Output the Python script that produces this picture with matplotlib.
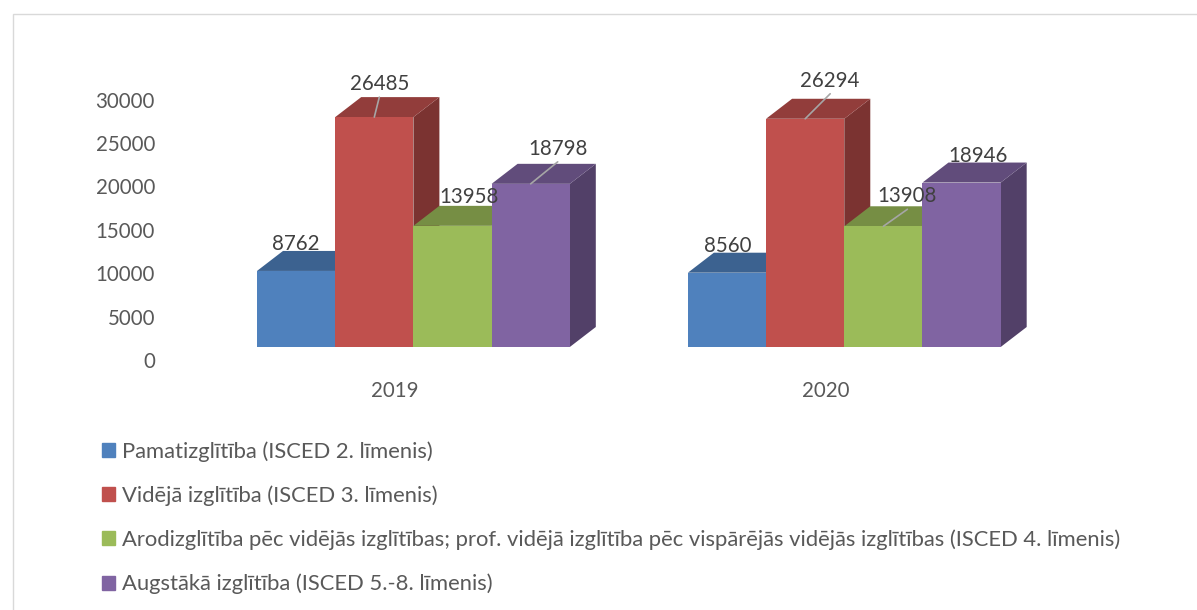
import matplotlib.pyplot as plt
import matplotlib.patches as mpatches
from matplotlib.transforms import ScaledTranslation, blended_transform_factory
from matplotlib.colors import to_rgb

plt.rcParams['font.family'] = ['Lato', 'DejaVu Sans']

# ----------------------------
# Data
# ----------------------------
years = ["2019", "2020"]
series = [
    "Pamatizglītība (ISCED 2. līmenis)",
    "Vidējā izglītība (ISCED 3. līmenis)",
    "Arodizglītība pēc vidējās izglītības; prof. vidējā izglītība pēc vispārējās vidējās izglītības (ISCED 4. līmenis)",
    "Augstākā izglītība (ISCED 5.-8. līmenis)",
]
values_2019 = [8762, 26485, 13958, 18798]
values_2020 = [8560, 26294, 13908, 18946]
yticks = [0, 5000, 10000, 15000, 20000, 25000, 30000]

colors = ["#4F81BD", "#C0504D", "#9BBB59", "#8064A2"]

# label nudges in pixels (dx, dy up) and whether a leader line is drawn
label_nudge = [
    [(0, 27, False), (5, 33, True), (17, 29, False), (27, 35, True)],
    [(1, 27, False), (25, 38, True), (24, 30, True), (16, 27, False)],
]

# ----------------------------
# Layout (pixel geometry of the 3D look)
# ----------------------------
W, H = 1197, 610
px_per_unit = 78.2          # one bar width
px_per_val = 8.68 / 1000    # pixels per value
x_front_left = 257          # left edge of first bar
y_base = 347                # pixel row of value 0 (from top)
group_step = 5.51           # in bar widths
depth_px = (26, 20)

fig = plt.figure(figsize=(W / 100, H / 100), dpi=100)
ax = fig.add_axes([0, 0, 1, 1])
ax.axis("off")
ax.set_xlim(-0.5 - x_front_left / px_per_unit, -0.5 + (W - x_front_left) / px_per_unit)
ax.set_ylim(-(H - y_base) / px_per_val, y_base / px_per_val)

# outer chart frame
fig.patches.append(mpatches.Rectangle(
    (13 / W, -0.05), 1.1, 1 - 14 / H + 0.05, transform=fig.transFigure,
    fill=False, edgecolor="#D9D9D9", linewidth=1.0))

ddx = depth_px[0] / px_per_unit
ddy = depth_px[1] / px_per_val


def shade(c, f):
    r, g, b = to_rgb(c)
    return (r * f, g * f, b * f)


all_values = [values_2019, values_2020]
for g, vals in enumerate(all_values):
    for j, v in enumerate(vals):
        x0 = g * group_step + j - 0.5
        x1 = x0 + 1
        col = colors[j]
        # side face
        ax.add_patch(mpatches.Polygon(
            [(x1, 0), (x1 + ddx, ddy), (x1 + ddx, v + ddy), (x1, v)],
            closed=True, facecolor=shade(col, 0.64), edgecolor="none", zorder=2))
        # top face
        ax.add_patch(mpatches.Polygon(
            [(x0, v), (x1, v), (x1 + ddx, v + ddy), (x0 + ddx, v + ddy)],
            closed=True, facecolor=shade(col, 0.76), edgecolor="none", zorder=2))
        # front face
        ax.bar(x0 + 0.5, v, width=1, color=col, edgecolor="none", zorder=2)

        ndx, ndy, line = label_nudge[g][j]
        off = ScaledTranslation(ndx / 100, ndy / 100, fig.dpi_scale_trans)
        ax.text(x0 + 0.5, v, f"{v}", transform=ax.transData + off,
                ha="center", va="center", fontsize=14.8, color="#404040", zorder=5)
        if line:
            ax.annotate("", xy=(x0 + 0.5, v), xycoords="data",
                        xytext=(ndx, ndy - 13), textcoords="offset pixels",
                        arrowprops=dict(arrowstyle="-", color="#A6A6A6", lw=1.2,
                                        shrinkA=0, shrinkB=0), zorder=4)

# y tick labels (drawn on the back wall, slightly below the front baseline)
ytrans = blended_transform_factory(fig.transFigure, ax.transData) + \
    ScaledTranslation(0, -15 / 100, fig.dpi_scale_trans)
for t in yticks:
    ax.text(155 / W, t, f"{t}", transform=ytrans, ha="right", va="center",
            fontsize=14.8, color="#595959")

# category labels
xtrans = ax.transData + ScaledTranslation(-19 / 100, -44 / 100, fig.dpi_scale_trans)
for g, yr in enumerate(years):
    ax.text(g * group_step + 1.5, 0, yr, transform=xtrans, ha="center",
            va="center", fontsize=14.8, color="#595959")

# legend
handles = [mpatches.Patch(color=c, label=s) for c, s in zip(colors, series)]
leg = fig.legend(handles=handles, loc="upper left",
                 bbox_to_anchor=(91 / W, 1 - 430 / H), frameon=False,
                 fontsize=15.8, handlelength=0.6, handleheight=0.6,
                 handletextpad=0.33, labelspacing=1.08, borderpad=0)
for txt in leg.get_texts():
    txt.set_color("#595959")

fig.savefig("out.png", dpi=100)
